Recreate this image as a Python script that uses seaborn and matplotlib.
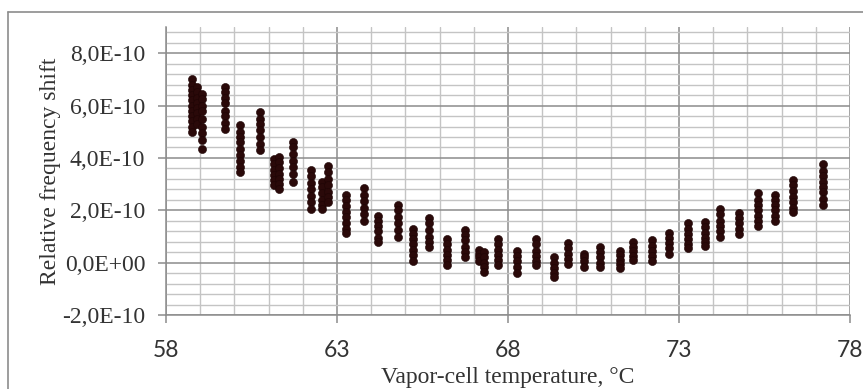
import numpy as np
import pandas as pd
import matplotlib
matplotlib.use("Agg")
import matplotlib.pyplot as plt
import seaborn as sns
from matplotlib.ticker import MultipleLocator, FixedLocator

# cluster temperatures (degC) and the measured shifts in each (units of 1e-10)
temps = [58.75, 58.9, 59.05, 59.73, 60.16, 60.75, 61.15, 61.3, 61.72, 62.23,
         62.55, 62.75, 63.25, 63.8, 64.21, 64.79, 65.23, 65.7, 66.21, 66.74,
         67.15, 67.3, 67.72, 68.25, 68.81, 69.35, 69.76, 70.22, 70.69, 71.27,
         71.66, 72.2, 72.72, 73.25, 73.76, 74.2, 74.75, 75.32, 75.81, 76.32,
         77.22]
shifts = [
    [7.0, 6.8, 6.6, 6.4, 6.2, 6.0, 5.8, 5.6, 5.4, 5.2, 5.0],
    [6.7, 6.5, 6.3, 6.1, 5.9, 5.7, 5.5, 5.3],
    [6.45, 6.25, 6.0, 5.8, 5.5, 5.2, 4.95, 4.7, 4.35],
    [6.7, 6.5, 6.3, 6.1, 5.8, 5.6, 5.35, 5.1],
    [5.25, 5.0, 4.8, 4.6, 4.35, 4.1, 3.9, 3.65, 3.45],
    [5.75, 5.5, 5.3, 5.05, 4.8, 4.55, 4.3],
    [3.95, 3.75, 3.55, 3.35, 3.15, 2.95],
    [4.05, 3.85, 3.6, 3.4, 3.2, 3.0, 2.8],
    [4.6, 4.4, 4.15, 3.9, 3.65, 3.4, 3.1],
    [3.55, 3.3, 3.05, 2.8, 2.55, 2.3, 2.05],
    [3.1, 2.9, 2.65, 2.4, 2.2, 2.05],
    [3.7, 3.45, 3.2, 2.95, 2.7, 2.5, 2.3],
    [2.6, 2.4, 2.15, 1.95, 1.75, 1.5, 1.3, 1.15],
    [2.85, 2.6, 2.35, 2.1, 1.85, 1.6],
    [1.8, 1.6, 1.4, 1.2, 0.95, 0.8],
    [2.2, 2.0, 1.75, 1.5, 1.25, 1.0],
    [1.3, 1.1, 0.9, 0.7, 0.5, 0.3, 0.05],
    [1.7, 1.5, 1.25, 1.0, 0.8, 0.6],
    [0.9, 0.7, 0.5, 0.3, 0.1, -0.1],
    [1.25, 1.05, 0.85, 0.6, 0.4, 0.2],
    [0.5, 0.35, 0.2, 0.05],
    [0.4, 0.2, 0.0, -0.15, -0.35],
    [0.9, 0.7, 0.5, 0.3, 0.1, -0.1],
    [0.45, 0.25, 0.05, -0.15, -0.4],
    [0.9, 0.7, 0.45, 0.25, 0.05, -0.1],
    [0.2, 0.0, -0.2, -0.4, -0.55],
    [0.75, 0.55, 0.35, 0.15, -0.05],
    [0.35, 0.2, 0.05, -0.15],
    [0.6, 0.4, 0.2, 0.0, -0.15],
    [0.45, 0.3, 0.1, -0.05, -0.2],
    [0.8, 0.6, 0.45, 0.25, 0.1],
    [0.85, 0.65, 0.45, 0.25, 0.05],
    [1.15, 0.95, 0.75, 0.55, 0.35],
    [1.5, 1.3, 1.1, 0.9, 0.7, 0.55],
    [1.55, 1.35, 1.15, 0.95, 0.8, 0.65],
    [2.05, 1.85, 1.6, 1.4, 1.2, 1.0],
    [1.9, 1.7, 1.5, 1.3, 1.1],
    [2.65, 2.4, 2.2, 2.0, 1.8, 1.6, 1.4],
    [2.6, 2.4, 2.2, 2.0, 1.8, 1.6],
    [3.15, 2.95, 2.75, 2.5, 2.3, 2.1, 1.95],
    [3.75, 3.5, 3.3, 3.1, 2.9, 2.7, 2.45, 2.2],
]

xticks = [58, 63, 68, 73, 78]
yticks = [-2e-10, 0.0, 2e-10, 4e-10, 6e-10, 8e-10]
ytick_labels = ["-2,0E-10", "0,0E+00", "2,0E-10", "4,0E-10", "6,0E-10", "8,0E-10"]

rows = []
for t, vals in zip(temps, shifts):
    for v in vals:
        rows.append((t, v * 1e-10))
df = pd.DataFrame(rows, columns=["temp", "shift"])

sns.set_style("white")
fig = plt.figure(figsize=(8.63, 3.89), dpi=100)
ax = fig.add_axes([0.1924, 0.19, 0.7926, 0.7406])

sns.scatterplot(data=df, x="temp", y="shift", ax=ax, color="#2a0909",
                marker="o", s=34, edgecolor="#1e0505", linewidth=0.4, zorder=3)

ax.set_xlim(58, 78)
ax.set_ylim(-2e-10, 9e-10)
ax.xaxis.set_major_locator(FixedLocator(xticks))
ax.xaxis.set_minor_locator(MultipleLocator(1))
ax.yaxis.set_major_locator(FixedLocator(yticks))
ax.yaxis.set_minor_locator(MultipleLocator(0.4e-10))
ax.set_yticklabels(ytick_labels)
ax.set_ylim(-2e-10, 9e-10)

ax.grid(which="major", color="#8c8c8c", lw=1.1)
ax.grid(which="minor", color="#c4c4c4", lw=1.0)
ax.set_axisbelow(True)
for s in ["top", "right"]:
    ax.spines[s].set_visible(False)
for s in ["left", "bottom"]:
    ax.spines[s].set_color("#8c8c8c")
    ax.spines[s].set_linewidth(1.1)
ax.tick_params(which="major", length=6, width=1.1, color="#8c8c8c", direction="out",
               left=True, bottom=True)
ax.tick_params(which="minor", length=0)

for lab in ax.get_yticklabels():
    lab.set_family("Liberation Serif")
    lab.set_fontsize(17)
    lab.set_color("#333333")
for lab in ax.get_xticklabels():
    lab.set_family("Lato")
    lab.set_fontsize(16.5)
    lab.set_color("#333333")
ax.tick_params(axis="x", pad=12)
ax.tick_params(axis="y", pad=9)

ax.set_xlabel("Vapor-cell temperature, °C", family="Liberation Serif", fontsize=17,
              color="#333333", labelpad=4)
ax.set_ylabel("Relative frequency shift", family="Liberation Serif", fontsize=17,
              color="#333333", labelpad=1)

# outer chart frame (only top and left edges fall inside the image)
fig.add_artist(plt.Line2D([0.0093, 1.0], [0.969, 0.969], color="#8c8c8c", lw=1.2))
fig.add_artist(plt.Line2D([0.0093, 0.0093], [0.0, 0.969], color="#8c8c8c", lw=1.2))

fig.savefig("out.png", dpi=100)
